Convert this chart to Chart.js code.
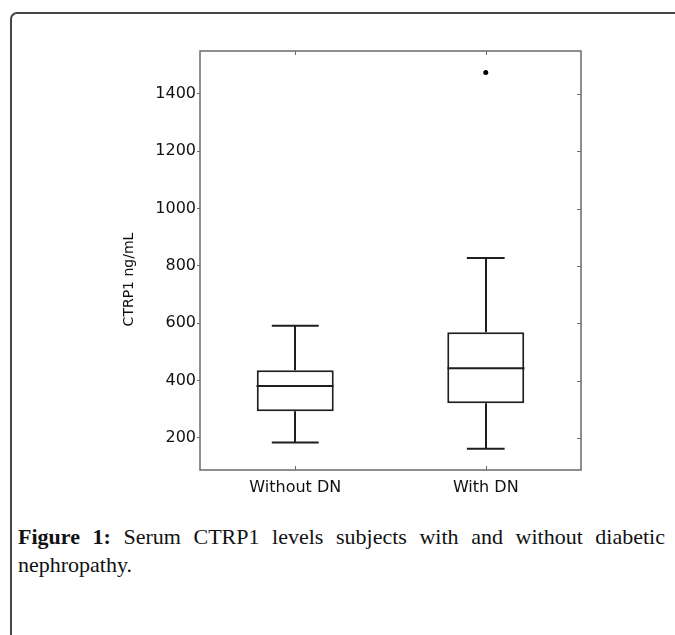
<!DOCTYPE html>
<html>
<head>
<meta charset="utf-8">
<script src="https://cdn.jsdelivr.net/npm/chart.js@4/dist/chart.umd.min.js"></script>
<style>
  html, body { margin: 0; padding: 0; background: #fff; }
  body { width: 675px; height: 635px; position: relative; overflow: hidden; }
  #frame {
    position: absolute; left: 10px; top: 12px; width: 700px; height: 700px;
    border-top: 2px solid #454545; border-left: 2px solid #454545;
    border-top-left-radius: 7px;
  }
  #chart { position: absolute; left: 0; top: 0; }
  .caption {
    position: absolute; left: 18px; width: 647px;
    font-family: "Liberation Serif", "DejaVu Serif", serif; font-size: 22px;
    line-height: 28px; color: #111; white-space: nowrap;
  }
  #cap1 { top: 523px; text-align: justify; text-align-last: justify; }
  #cap2 { top: 551px; }
</style>
</head>
<body>
<div id="frame"></div>
<canvas id="chart" width="675" height="510"></canvas>
<div class="caption" id="cap1"><b>Figure 1:</b> Serum CTRP1 levels subjects with and without diabetic</div>
<div class="caption" id="cap2">nephropathy.</div>
<script>
document.addEventListener('DOMContentLoaded', function () {
    // values (ng/mL)
    const categories = ['Without DN', 'With DN'];
    const whiskerLow = [184, 162];
    const q1 = [293, 321];
    const median = [381, 443];
    const q3 = [436, 569];
    const whiskerHigh = [591, 828];
    const outliers = [null, 1475];
    const yTicks = [200, 400, 600, 800, 1000, 1200, 1400];
    const yTitle = 'CTRP1 ng/mL';

    const lineColor = '#1e1e1e';
    const frameColor = '#6a6a6a';
    const capHalf = [0.123, 0.099]; // cap half width, in category units

    const boxWhiskers = {
        id: 'boxWhiskers',
        afterDatasetsDraw(chart) {
            const ctx = chart.ctx;
            const x = chart.scales.x;
            const y = chart.scales.y;
            const bars = chart.getDatasetMeta(0).data;
            ctx.save();
            ctx.strokeStyle = lineColor;
            ctx.lineWidth = 2;
            categories.forEach((c, i) => {
                const px = Math.round(x.getPixelForValue(i));
                const half = bars[i].width / 2;
                const capL = x.getPixelForValue(i - capHalf[i]);
                const capR = x.getPixelForValue(i + capHalf[i]);
                ctx.beginPath();
                // median
                ctx.moveTo(px - half, y.getPixelForValue(median[i]));
                ctx.lineTo(px + half, y.getPixelForValue(median[i]));
                // whiskers
                ctx.moveTo(px, y.getPixelForValue(q3[i]));
                ctx.lineTo(px, y.getPixelForValue(whiskerHigh[i]));
                ctx.moveTo(px, y.getPixelForValue(q1[i]));
                ctx.lineTo(px, y.getPixelForValue(whiskerLow[i]));
                // caps
                ctx.moveTo(capL, y.getPixelForValue(whiskerHigh[i]));
                ctx.lineTo(capR, y.getPixelForValue(whiskerHigh[i]));
                ctx.moveTo(capL, y.getPixelForValue(whiskerLow[i]));
                ctx.lineTo(capR, y.getPixelForValue(whiskerLow[i]));
                ctx.stroke();
            });
            ctx.restore();
        },
        afterDraw(chart) {
            const ctx = chart.ctx;
            const a = chart.chartArea;
            const x = chart.scales.x;
            const y = chart.scales.y;
            ctx.save();
            ctx.strokeStyle = frameColor;
            ctx.lineWidth = 1.5;
            ctx.strokeRect(a.left, a.top, a.right - a.left, a.bottom - a.top);
            // inner ticks: top and bottom at categories, right at y ticks
            ctx.lineWidth = 1;
            ctx.beginPath();
            categories.forEach((c, i) => {
                const px = Math.round(x.getPixelForValue(i)) + 0.5;
                ctx.moveTo(px, a.top);
                ctx.lineTo(px, a.top + 4);
                ctx.moveTo(px, a.bottom);
                ctx.lineTo(px, a.bottom - 4);
            });
            yTicks.forEach(v => {
                const py = Math.round(y.getPixelForValue(v)) + 0.5;
                ctx.moveTo(a.right, py);
                ctx.lineTo(a.right - 4, py);
            });
            ctx.stroke();
            // axis title
            ctx.fillStyle = '#111';
            ctx.font = '14px "DejaVu Sans"';
            ctx.textAlign = 'center';
            ctx.textBaseline = 'middle';
            ctx.translate(a.left - 71, (a.top + a.bottom) / 2 + 19);
            ctx.rotate(-Math.PI / 2);
            ctx.fillText(yTitle, 0, 0);
            ctx.restore();
        }
    };

    new Chart(document.getElementById('chart'), {
        type: 'bar',
        data: {
            labels: categories,
            datasets: [{
                data: categories.map((c, i) => [q1[i], q3[i]]),
                backgroundColor: '#ffffff',
                borderColor: lineColor,
                borderWidth: 2,
                borderSkipped: false,
                categoryPercentage: 1,
                barPercentage: 0.404
            }, {
                type: 'line',
                data: outliers,
                showLine: false,
                pointRadius: 2.5,
                pointBackgroundColor: '#000',
                pointBorderWidth: 0
            }]
        },
        options: {
            responsive: false,
            animation: false,
            devicePixelRatio: 1,
            layout: { padding: { left: 110, top: 51, right: 94, bottom: 10 } },
            plugins: {
                legend: { display: false },
                tooltip: { enabled: false }
            },
            scales: {
                x: {
                    grid: { display: false },
                    border: { display: false },
                    ticks: {
                        color: '#111',
                        font: { family: 'DejaVu Sans', size: 16 },
                        padding: 0
                    },
                    afterFit: s => { s.height = 30; }
                },
                y: {
                    min: 88,
                    max: 1550,
                    afterBuildTicks: s => { s.ticks = yTicks.map(v => ({ value: v })); },
                    afterFit: s => { s.width = 90; },
                    grid: {
                        drawOnChartArea: false,
                        color: frameColor,
                        tickLength: 3
                    },
                    border: { display: false },
                    ticks: {
                        color: '#111',
                        padding: 1,
                        font: { family: 'DejaVu Sans', size: 16 },
                        callback: v => String(v)
                    }
                }
            }
        },
        plugins: [boxWhiskers]
    });
});
</script>
</body>
</html>
